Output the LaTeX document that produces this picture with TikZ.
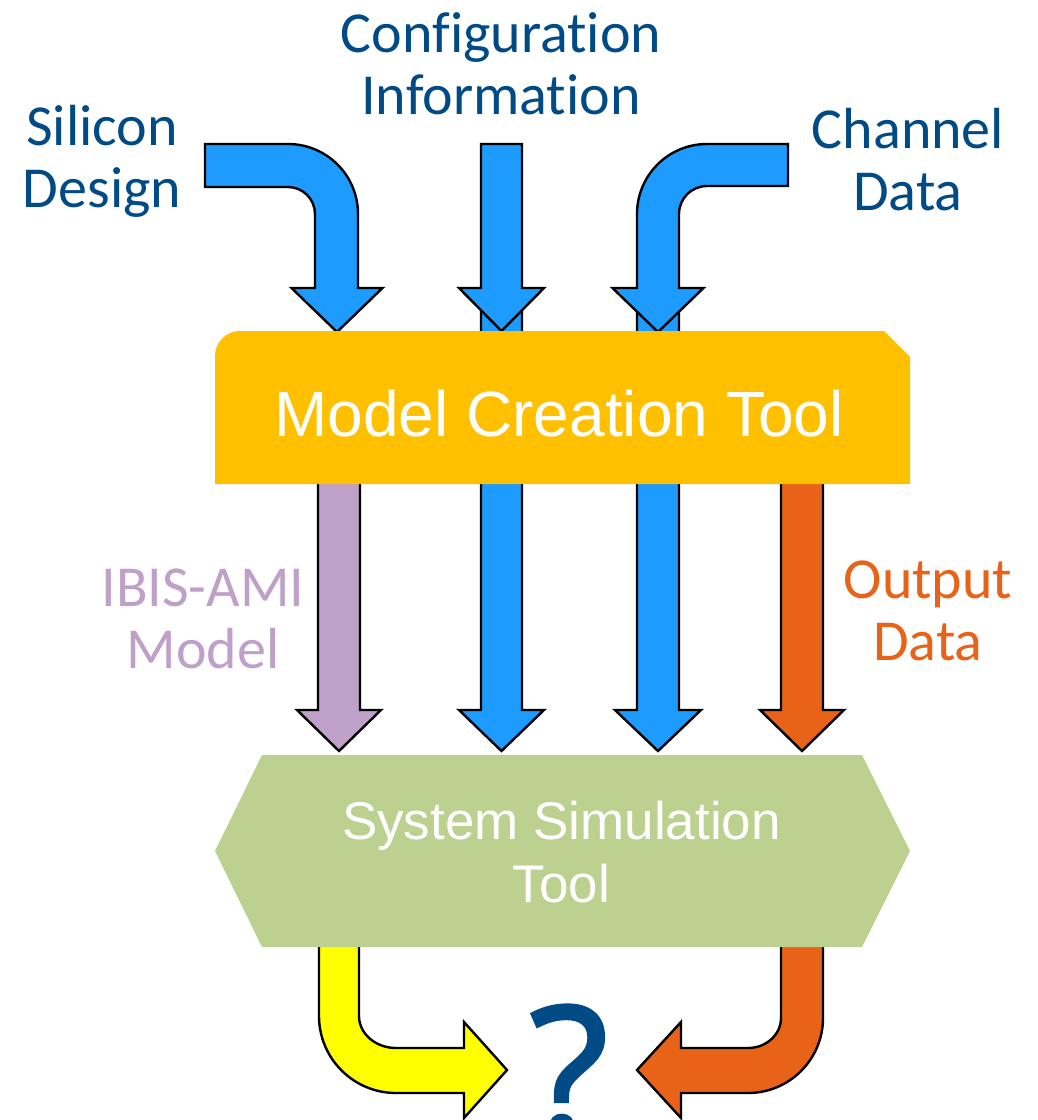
\documentclass[tikz,border=0pt]{standalone}
\usepackage{fontspec}
\setmainfont{Carlito}[Ligatures={NoCommon}]
\newfontfamily\arialf{Liberation Sans}
\newfontfamily\qfont{Open Sans}[FakeBold=2]
\definecolor{arblue}{RGB}{30,155,255}
\definecolor{boxyel}{RGB}{255,192,0}
\definecolor{hexgreen}{RGB}{188,209,143}
\definecolor{lilac}{RGB}{190,160,200}
\definecolor{orng}{RGB}{232,99,23}
\definecolor{yel}{RGB}{255,255,0}
\definecolor{dblue}{RGB}{0,74,134}
\begin{document}
\begin{tikzpicture}[x=1pt,y=-1pt,
  arrowline/.style={draw=black, line width=2.4pt, line join=miter},
  lbl/.style={inner sep=0pt, align=center, anchor=base, font=\fontsize{58}{62}\selectfont},
  boxtext/.style={inner sep=0pt, align=center, anchor=base, text=white}]
\useasboundingbox (0,0) rectangle (1038,1120);
\clip (0,0) rectangle (1038,1120);

% lower arrows (behind boxes)
\filldraw[arrowline, fill=arblue] (481,295) -- (481,710) -- (459,710) -- (501.5,751) -- (544,710) -- (522,710) -- (522,295) -- cycle;
\filldraw[arrowline, fill=arblue] (637,295) -- (637,710) -- (615,710) -- (658,751) -- (701,710) -- (679,710) -- (679,295) -- cycle;
\filldraw[arrowline, fill=lilac] (318,470) -- (318,710) -- (297,710) -- (339,751) -- (381,710) -- (360,710) -- (360,470) -- cycle;
\filldraw[arrowline, fill=orng] (781,470) -- (781,710) -- (760,710) -- (802,751) -- (844,710) -- (823,710) -- (823,470) -- cycle;

% top arrows
\filldraw[arrowline, fill=arblue] (205,144) -- (288,144) .. controls (326.7,144) and (358,175.3) .. (358,214) -- (358,288) -- (382.5,288) -- (337,332) -- (291.5,288) -- (315,288) -- (315,214) .. controls (315,199.1) and (302.9,187) .. (288,187) -- (205,187) -- cycle;
\filldraw[arrowline, fill=arblue] (481,144) -- (481,288) -- (459,288) -- (501.5,331) -- (544,288) -- (522,288) -- (522,144) -- cycle;
\filldraw[arrowline, fill=arblue] (788,144) -- (707,144) .. controls (668.3,144) and (637,175.3) .. (637,214) -- (637,288) -- (612.5,288) -- (658,332) -- (703.5,288) -- (679,288) -- (679,214) .. controls (679,198.5) and (691.5,186) .. (707,186) -- (788,186) -- cycle;

% bottom arrows
\filldraw[arrowline, fill=yel] (319,930) -- (319,1016) .. controls (319,1058.5) and (353.5,1093) .. (396,1093) -- (464,1093) -- (464,1118) -- (507,1070) -- (464,1022) -- (464,1048) -- (396,1048) .. controls (375.6,1048) and (359,1033.7) .. (359,1016) -- (359,930) -- cycle;
\filldraw[arrowline, fill=orng] (823,930) -- (823,1018) .. controls (823,1059.4) and (789.4,1093) .. (748,1093) -- (681,1093) -- (681,1118) -- (637,1070) -- (681,1022) -- (681,1048) -- (748,1048) .. controls (766.2,1048) and (781,1034.6) .. (781,1018) -- (781,930) -- cycle;

% Model Creation Tool box
\fill[boxyel] (215,484) -- (215,356) .. controls (215,342.2) and (226.2,331) .. (240,331) -- (884,331) -- (910,357) -- (910,484) -- cycle;
\node[boxtext, font=\arialf\fontsize{64}{70}\selectfont] (mct) at (559,436) {Model Creation Tool};

% System Simulation Tool hexagon
\fill[hexgreen] (262,755) -- (862,755) -- (910,851) -- (862,947) -- (262,947) -- (215,851) -- cycle;
\node[boxtext, font=\arialf\fontsize{53}{63}\selectfont] (sst) at (561.5,902) {System Simulation\\Tool};

% labels
\node[lbl, text=dblue] (sil) at (102,207) {Silicon\\Design};
\node[lbl, text=dblue] (cfg) at (501,114) {Configuration\\Information};
\node[lbl, text=dblue] (chn) at (908,210) {Channel\\Data};
\node[lbl, text=lilac] (ibis) at (203,668) {IBIS-AMI\\Model};
\node[lbl, text=orng] (out) at (928,660) {Output\\Data};

\node[inner sep=0pt, anchor=base, text=dblue, font=\qfont\fontsize{182}{182}\selectfont] (q) at (569,1137) {?};
\end{tikzpicture}
\end{document}
